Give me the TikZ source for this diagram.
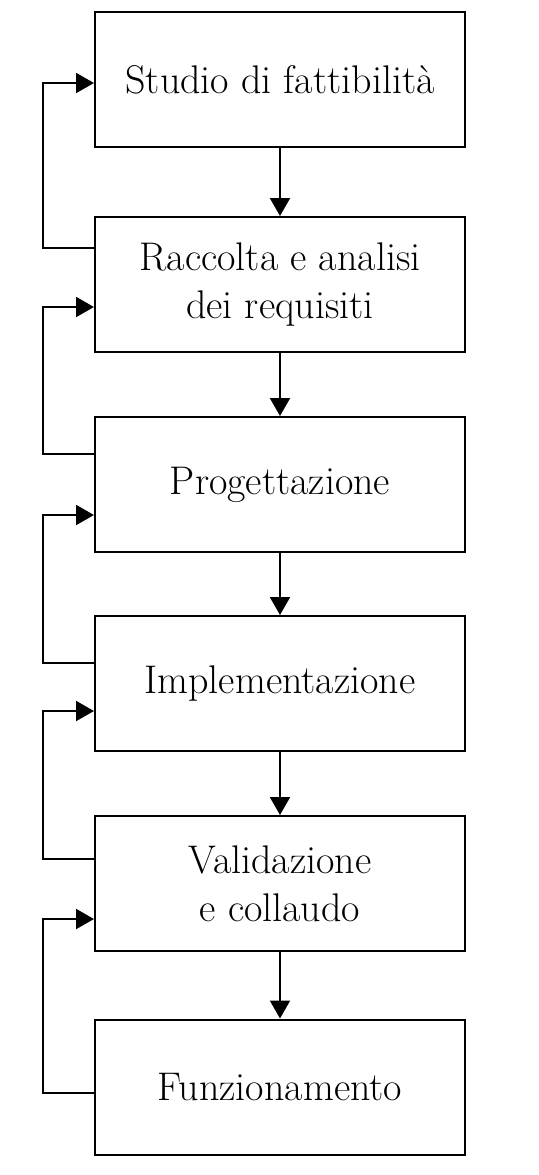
\documentclass[tikz,border=0pt]{standalone}
\usepackage{tikz}
\usetikzlibrary{arrows.meta,positioning}
\tikzset{phase/.style={draw, line width=1pt, minimum width=185pt, minimum height=67.5pt, align=center, font=\fontsize{20}{24}\selectfont, inner sep=0pt}}
\tikzset{arr/.style={draw, line width=1pt, -{Triangle[length=9pt, width=10pt]}}}
\newcommand\backarr[4]{
		\draw[arr] (#1.west |- 0,#2) -- (43,#2) -- (43,#4) -- (#3.west |- 0,#4);
	}

\begin{document}
\begin{tikzpicture}[x=0.5pt, y=-0.5pt]
                \useasboundingbox (0,0) rectangle (539,1175);
                \node[phase] (S) at (280,79.5) {Studio di fattibilità};
                \node[phase] (R) at (280,284.5) {Raccolta e analisi\\dei requisiti};
                \node[phase] (P) at (280,484.5) {Progettazione};
                \node[phase] (I) at (280,683.5) {Implementazione};
                \node[phase] (V) at (280,883.5) {Validazione\\e collaudo};
                \node[phase] (F) at (280,1087) {Funzionamento};
                
                % avanti
                \draw[arr] (S) -- (R);
                \draw[arr] (R) -- (P);
                \draw[arr] (P) -- (I);
                \draw[arr] (I) -- (V);
                \draw[arr] (V) -- (F);
                
                % ritorno
                \backarr{R}{248}{S}{83}
                \backarr{P}{454}{R}{307}
                \backarr{I}{663}{P}{515}
                \backarr{V}{859}{I}{711}
                \backarr{F}{1093}{V}{919}
            \end{tikzpicture}
\end{document}
